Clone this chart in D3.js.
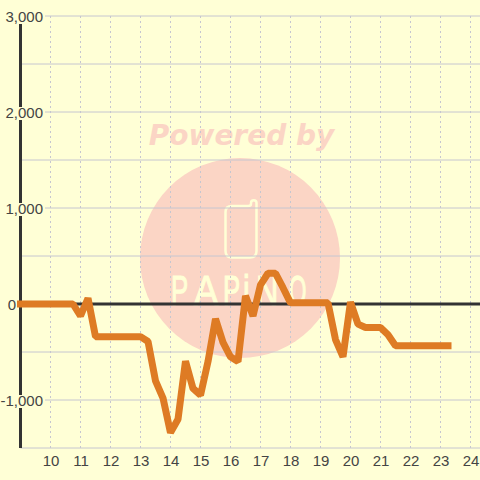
<!DOCTYPE html>
<html><head><meta charset="utf-8">
<script src="https://cdn.jsdelivr.net/npm/d3@7"></script>
<style>html,body{margin:0;padding:0;background:#ffffd6}svg{display:block}text{font-family:"Liberation Sans",Arial,sans-serif}</style>
</head><body><div id="c"></div>
<script>
const hours=[9,9.25,9.5,9.75,10,10.25,10.5,10.75,11,11.25,11.5,11.75,12,12.25,12.5,12.75,13,13.25,13.5,13.75,14,14.25,14.5,14.75,15,15.25,15.5,15.75,16,16.25,16.5,16.75,17,17.25,17.5,17.75,18,18.25,18.5,18.75,19,19.25,19.5,19.75,20,20.25,20.5,20.75,21,21.25,21.5,21.75,22,22.25,22.5,22.75,23,23.25];
const values=[0,0,0,0,0,0,0,0,-125,60,-340,-340,-340,-340,-340,-340,-340,-390,-800,-980,-1340,-1200,-595,-880,-950,-600,-155,-400,-550,-600,85,-125,200,320,320,170,12,12,12,12,12,12,-370,-550,20,-210,-245,-245,-245,-320,-434,-434,-434,-434,-434,-434,-434,-434];
const xTicks=[10,11,12,13,14,15,16,17,18,19,20,21,22,23,24];
const yTicks=[3000,2500,2000,1500,1000,500,0,-500,-1000,-1500];
const yLabels=[3000,2000,1000,0,-1000];
const watermarkTop="Powered by", watermarkLogo="PAPiNO";
const logoX=[171,194,223,243,256,289];
const logoScale=[.6,.85,.6,.7,.72,.52];
const W=480,H=480;
const x=d3.scaleLinear().domain([9,24]).range([20.5,470.5]);
const y=d3.scaleLinear().domain([3000,-1500]).range([16,448]);
const bg="#ffffd6",pink="#fbd5c5";
const svg=d3.select("#c").append("svg").attr("width",W).attr("height",H);
svg.append("rect").attr("width",W).attr("height",H).attr("fill",bg);
// watermark
svg.append("text").attr("x",241.500).attr("y",145).attr("text-anchor","middle").attr("fill",pink)
  .style("font-family","DejaVu Sans").style("font-weight","bold").style("font-style","italic").style("font-size","28px").text(watermarkTop);
svg.append("circle").attr("cx",240).attr("cy",258).attr("r",100).attr("fill",pink);
svg.append("path").attr("d","M232 206 H248 Q251 206 251 204 V203 A2.750 2.750 0 0 1 256.500 203 V251 Q256.500 257.500 250 257.500 H232 Q225.500 257.500 225.500 251 V212 Q225.500 206 232 206")
  .attr("fill","none").attr("stroke",bg).attr("stroke-width",2.5);
svg.selectAll(".logo").data(watermarkLogo.split("")).join("text")
  .attr("transform",(d,i)=>`translate(${logoX[i]},305) scale(${logoScale[i]},1)`)
  .attr("fill",bg).attr("stroke",bg).attr("stroke-width",1).style("vector-effect","non-scaling-stroke")
  .style("font-size","43px").text(d=>d);
// grid
const g=svg.append("g");
g.selectAll(".h").data(yTicks).join("line").attr("x1",x(9)).attr("x2",W).attr("y1",d=>y(d)).attr("y2",d=>y(d))
  .attr("stroke","#c6c6d0").attr("stroke-width",1);
g.selectAll(".v").data(xTicks).join("line").attr("x1",d=>x(d)).attr("x2",d=>x(d)).attr("y1",16).attr("y2",448)
  .attr("stroke","#c6c6d0").attr("stroke-dasharray","2,3").attr("stroke-width",1);
// zero line and y axis
svg.append("line").attr("x1",x(9)).attr("x2",W).attr("y1",y(0)).attr("y2",y(0)).attr("stroke","#333").attr("stroke-width",3);
svg.append("line").attr("x1",x(9)).attr("x2",x(9)).attr("y1",16).attr("y2",448).attr("stroke","#333").attr("stroke-width",3);
// series
svg.append("path").datum(hours.map((h,i)=>[h,values[i]])).attr("fill","none").attr("stroke","#de7b24").attr("stroke-width",7)
  .attr("stroke-linejoin","bevel").attr("stroke-linecap","square")
  .attr("d",d3.line().x(d=>x(d[0])).y(d=>y(d[1])));
// labels
const ly=svg.selectAll(".yl").data(yLabels).join("g");
ly.filter(d=>d!==0).append("rect").attr("x",0).attr("y",d=>y(d)-5).attr("width",45).attr("height",13).attr("fill",bg);
ly.append("text").attr("x",d=>d===0?16:43).attr("y",d=>y(d)+6).attr("text-anchor","end").attr("fill","#444").style("font-size","15px").text(d=>d3.format(",")(d).replace("−","-"));
svg.selectAll(".xl").data(xTicks).join("text").attr("x",d=>x(d)+.5).attr("y",466).attr("text-anchor","middle").attr("fill","#444").style("font-size","15px").text(d=>d);
</script></body></html>
